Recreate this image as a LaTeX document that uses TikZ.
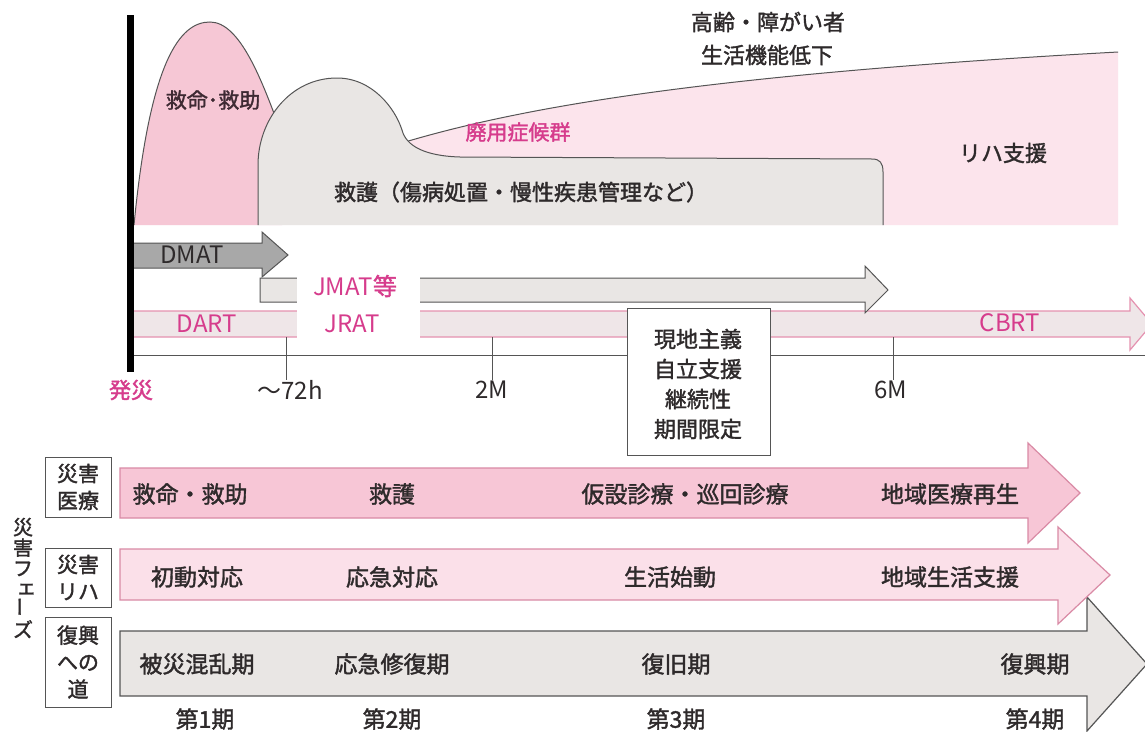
\documentclass[tikz,border=0pt]{standalone}
\usepackage{fontspec}
\setmainfont{Noto Sans CJK JP}
\newfontfamily\jpf[FakeBold=1.6]{Noto Sans CJK JP}
\definecolor{humppink}{HTML}{F6C7D5}
\definecolor{lightpink}{HTML}{FCE4EC}
\definecolor{grayfill}{HTML}{E9E6E4}
\definecolor{outl}{HTML}{555555}
\definecolor{magtxt}{HTML}{D63C8C}
\definecolor{darktxt}{HTML}{2E2A2B}
\definecolor{humptxt}{HTML}{3E2A33}
\definecolor{dmatfill}{HTML}{A8A8A8}
\definecolor{pinkline}{HTML}{E592B0}
\definecolor{dartfill}{HTML}{EFE6E8}
\definecolor{arrAfill}{HTML}{F7C6D6}
\definecolor{arrBfill}{HTML}{FBE0E9}
\definecolor{arrborder}{HTML}{D98AA5}
\begin{document}
\begin{tikzpicture}[x=1pt,y=-1pt,
  jp/.style={font=\jpf\fontsize{22}{26}\selectfont,text=darktxt,inner sep=0pt},
  jpb/.style={font=\jpf\fontsize{23}{27}\selectfont,text=darktxt,inner sep=0pt},
  lat/.style={font=\fontsize{24}{28}\selectfont,inner sep=0pt},
  mag/.style={lat,text=magtxt},
  labbox/.style={draw=outl,line width=0.9pt,fill=white,minimum width=66pt,inner sep=0pt,align=center,font=\jpf\fontsize{21}{27}\selectfont,text=darktxt},
  outline/.style={draw=outl,line width=1pt},
]
\useasboundingbox (0,0) rectangle (1145,731);
\fill[white] (0,0) rectangle (1145,731);

% ---------- top area ----------
\fill[lightpink] (405,142) .. controls (520,108) and (700,75) .. (1118,52) -- (1118,225) -- (400,225) -- cycle;
\draw[outline] (405,142) .. controls (520,108) and (700,75) .. (1118,52);

\fill[humppink] (134,225) .. controls (150,60) and (180,22) .. (210,22) .. controls (240,22) and (262,80) .. (282,135) -- (282,225) -- cycle;
\draw[outline] (134,225) .. controls (150,60) and (180,22) .. (210,22) .. controls (240,22) and (262,80) .. (282,135);

\path[fill=grayfill] (258,225) -- (258,165) .. controls (258,120) and (290,78) .. (337,78) .. controls (372,78) and (395,108) .. (402,130) .. controls (406,146) and (425,156) .. (460,157) -- (872,159) .. controls (880,159) and (883,163) .. (883,172) -- (883,225) -- cycle;
\draw[outline] (258,225) -- (258,165) .. controls (258,120) and (290,78) .. (337,78) .. controls (372,78) and (395,108) .. (402,130) .. controls (406,146) and (425,156) .. (460,157) -- (872,159) .. controls (880,159) and (883,163) .. (883,172) -- (883,225);

\node[jp] (older1) at (768,22) {高齢・障がい者};
\node[jp] (older2) at (767,55) {生活機能低下};
\node[jp,text=humptxt,font=\jpf\fontsize{21}{25}\selectfont] (rescue) at (213,100) {救命･救助};
\node[jp,text=magtxt,font=\jpf\fontsize{21}{25}\selectfont] (disuse) at (518,132) {廃用症候群};
\node[jp] (rehasup) at (1003,153) {リハ支援};
\node[jp] (relief) at (521,192) {救護（傷病処置・慢性疾患管理など）};

% ---------- team arrows ----------
\draw[draw=pinkline,line width=1.2pt,fill=dartfill] (133,311) -- (1130,311) -- (1130,298) -- (1152,324) -- (1130,350) -- (1130,337) -- (133,337) -- cycle;
\draw[draw=outl,line width=1pt,fill=grayfill] (260,278) -- (865,278) -- (865,266) -- (888,290) -- (865,313) -- (865,302) -- (260,302) -- cycle;
\draw[draw=outl,line width=1pt,fill=dmatfill] (133,243) -- (262,243) -- (262,232) -- (288,255) -- (262,277) -- (262,268) -- (133,268) -- cycle;
\fill[white] (297,270) rectangle (420,346);

\node[lat,text=darktxt] (dmat) at (192,255) {DMAT};
\node[mag] (jmat) at (355,286) {JMAT\jpf 等};
\node[mag] (dart) at (207,324) {DART};
\node[mag] (jrat) at (352,324) {JRAT};
\node[mag] (cbrt) at (1010,323) {CBRT};

% axis
\draw[outl,line width=1pt] (133,355) -- (1145,355);
\draw[outl,line width=1pt] (286,337) -- (286,380);
\draw[outl,line width=1pt] (492,337) -- (492,380);
\draw[outl,line width=1pt] (893,337) -- (893,380);
\draw[black,line width=7pt] (130,15) -- (130,372);

\node[mag,font=\jpf\fontsize{22}{26}\selectfont] (onset) at (131,390) {発災};
\node[lat,text=darktxt] (t72) at (290,390) {～72h};
\node[lat,text=darktxt] (t2m) at (492,390) {2M};
\node[lat,text=darktxt] (t6m) at (891,390) {6M};

\node[draw=outl,line width=1pt,fill=white,minimum width=143pt,minimum height=147pt,inner sep=0pt] (principles) at (698.5,381.5) {};
\node[jp] (p1) at (698,339) {現地主義};
\node[jp] (p2) at (698,369) {自立支援};
\node[jp] (p3) at (698,399) {継続性};
\node[jp] (p4) at (698,429) {期間限定};

% ---------- phase arrows ----------
\draw[draw=outl,line width=1.2pt,fill=grayfill] (120,631) -- (1087,631) -- (1087,597) -- (1147,664) -- (1087,731) -- (1087,696) -- (120,696) -- cycle;
\draw[draw=arrborder,line width=1.2pt,fill=arrBfill] (120,549) -- (1058,549) -- (1058,527) -- (1110,575) -- (1058,624) -- (1058,600) -- (120,600) -- cycle;
\draw[draw=arrborder,line width=1.2pt,fill=arrAfill] (120,468) -- (1028,468) -- (1028,443) -- (1080,493) -- (1028,543) -- (1028,518) -- (120,518) -- cycle;

\node[labbox,minimum height=60pt] (lab1) at (78,487) {災害\\医療};
\node[labbox,minimum height=59pt] (lab2) at (78,577.5) {災害\\リハ};
\node[labbox,minimum height=90pt] (lab3) at (78,662) {復興\\への\\道};

\node[align=center,inner sep=0pt,font=\jpf\fontsize{20}{20.5}\selectfont,text=darktxt] (phase) at (23,578)
  {災\\害\\フ\\\hspace*{7pt}\raisebox{2pt}{ェ}\\\rotatebox{90}{ー}\\ズ};

\node[jpb] (a1) at (190,494) {救命・救助};
\node[jpb] (a2) at (392,494) {救護};
\node[jpb] (a3) at (685,494) {仮設診療・巡回診療};
\node[jpb] (a4) at (950,494) {地域医療再生};

\node[jpb] (b1) at (197,577) {初動対応};
\node[jpb] (b2) at (392,577) {応急対応};
\node[jpb] (b3) at (670,577) {生活始動};
\node[jpb] (b4) at (950,577) {地域生活支援};

\node[jpb] (c1) at (197,664) {被災混乱期};
\node[jpb] (c2) at (392,664) {応急修復期};
\node[jpb] (c3) at (676,664) {復旧期};
\node[jpb] (c4) at (1035,664) {復興期};

\node[jpb] (d1) at (205,719) {第1期};
\node[jpb] (d2) at (392,719) {第2期};
\node[jpb] (d3) at (676,719) {第3期};
\node[jpb] (d4) at (1035,719) {第4期};
\end{tikzpicture}
\end{document}
